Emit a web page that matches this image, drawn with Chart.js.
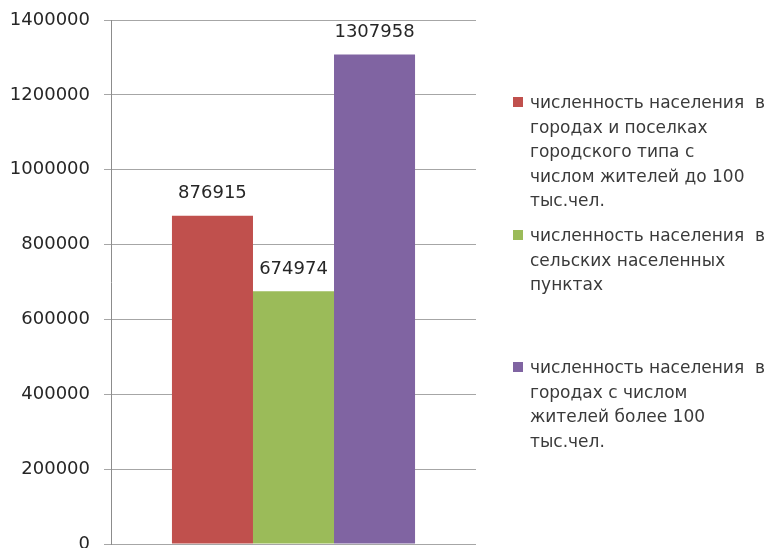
<!DOCTYPE html>
<html>
<head>
<meta charset="utf-8">
<script src="https://cdn.jsdelivr.net/npm/chart.js@4.4.1/dist/chart.umd.min.js"></script>
<style>
  html, body { margin: 0; padding: 0; background: #fff; }
  #wrap { position: relative; width: 768px; height: 548px; overflow: hidden; }
  #legend { position: absolute; left: 513px; top: 0; width: 255px; font-family: "DejaVu Sans", sans-serif; font-size: 17px; color: #3a3a3a; }
  .item { position: absolute; left: 0; }
  .sw { position: absolute; left: 0; width: 10px; height: 10px; }
  .txt { position: absolute; left: 17px; line-height: 24.6px; white-space: pre; }
</style>
</head>
<body>
<div id="wrap">
  <canvas id="c" width="768" height="548"></canvas>
  <div id="legend"></div>
</div>
<script>
const categories = [""];
const seriesNames = [
  ["численность населения  в", "городах и поселках", "городского типа с", "числом жителей до 100", "тыс.чел."],
  ["численность населения  в", "сельских населенных", "пунктах"],
  ["численность населения  в", "городах с числом", "жителей более 100", "тыс.чел."]
];
const seriesUrbanSmall = [876915];
const seriesRural = [674974];
const seriesUrbanLarge = [1307958];
const seriesColors = ["#C0504D", "#9BBB59", "#8064A2"];
const yTicks = [0, 200000, 400000, 600000, 800000, 1000000, 1200000, 1400000];

const legendTops = [90, 223, 355];

const valueLabels = {
  id: "valueLabels",
  afterDatasetsDraw(chart) {
    const ctx = chart.ctx;
    ctx.save();
    ctx.font = "18px 'DejaVu Sans', sans-serif";
    ctx.fillStyle = "#262626";
    ctx.textAlign = "center";
    ctx.textBaseline = "middle";
    chart.data.datasets.forEach((ds, i) => {
      const meta = chart.getDatasetMeta(i);
      meta.data.forEach((bar, j) => {
        ctx.fillText(String(ds.data[j]), bar.x, bar.y - 22);
      });
    });
    ctx.restore();
  }
};

const chart = new Chart(document.getElementById("c"), {
  type: "bar",
  data: {
    labels: categories,
    datasets: [
      { label: seriesNames[0].join(" "), data: seriesUrbanSmall, backgroundColor: seriesColors[0] },
      { label: seriesNames[1].join(" "), data: seriesRural, backgroundColor: seriesColors[1] },
      { label: seriesNames[2].join(" "), data: seriesUrbanLarge, backgroundColor: seriesColors[2] }
    ]
  },
  options: {
    responsive: false,
    animation: false,
    devicePixelRatio: 1,
    layout: { padding: { top: 20, right: 292, bottom: 4, left: 0 } },
    plugins: { legend: { display: false }, tooltip: { enabled: false } },
    datasets: { bar: { categoryPercentage: 0.666, barPercentage: 1.0 } },
    scales: {
      x: { display: false },
      y: {
        min: 0, max: 1400000,
        afterBuildTicks(scale) { scale.ticks = yTicks.map(v => ({ value: v })); },
        afterFit(scale) { scale.width = 111; scale.paddingTop = 0; scale.paddingBottom = 0; },
        ticks: {
          padding: 14,
          color: "#262626",
          font: { family: "DejaVu Sans", size: 18 },
          callback: v => String(v)
        },
        grid: { color: "#a6a6a6", lineWidth: 1, tickLength: 7 },
        border: { color: "#8c8c8c", width: 1 }
      }
    }
  },
  plugins: [valueLabels]
});

const legend = document.getElementById("legend");
seriesNames.forEach((lines, i) => {
  const item = document.createElement("div");
  item.className = "item";
  item.style.top = legendTops[i] + "px";
  const sw = document.createElement("div");
  sw.className = "sw";
  sw.style.background = seriesColors[i];
  sw.style.top = "7px";
  const txt = document.createElement("div");
  txt.className = "txt";
  txt.textContent = lines.join("\n");
  item.appendChild(sw);
  item.appendChild(txt);
  legend.appendChild(item);
});
</script>
</body>
</html>
